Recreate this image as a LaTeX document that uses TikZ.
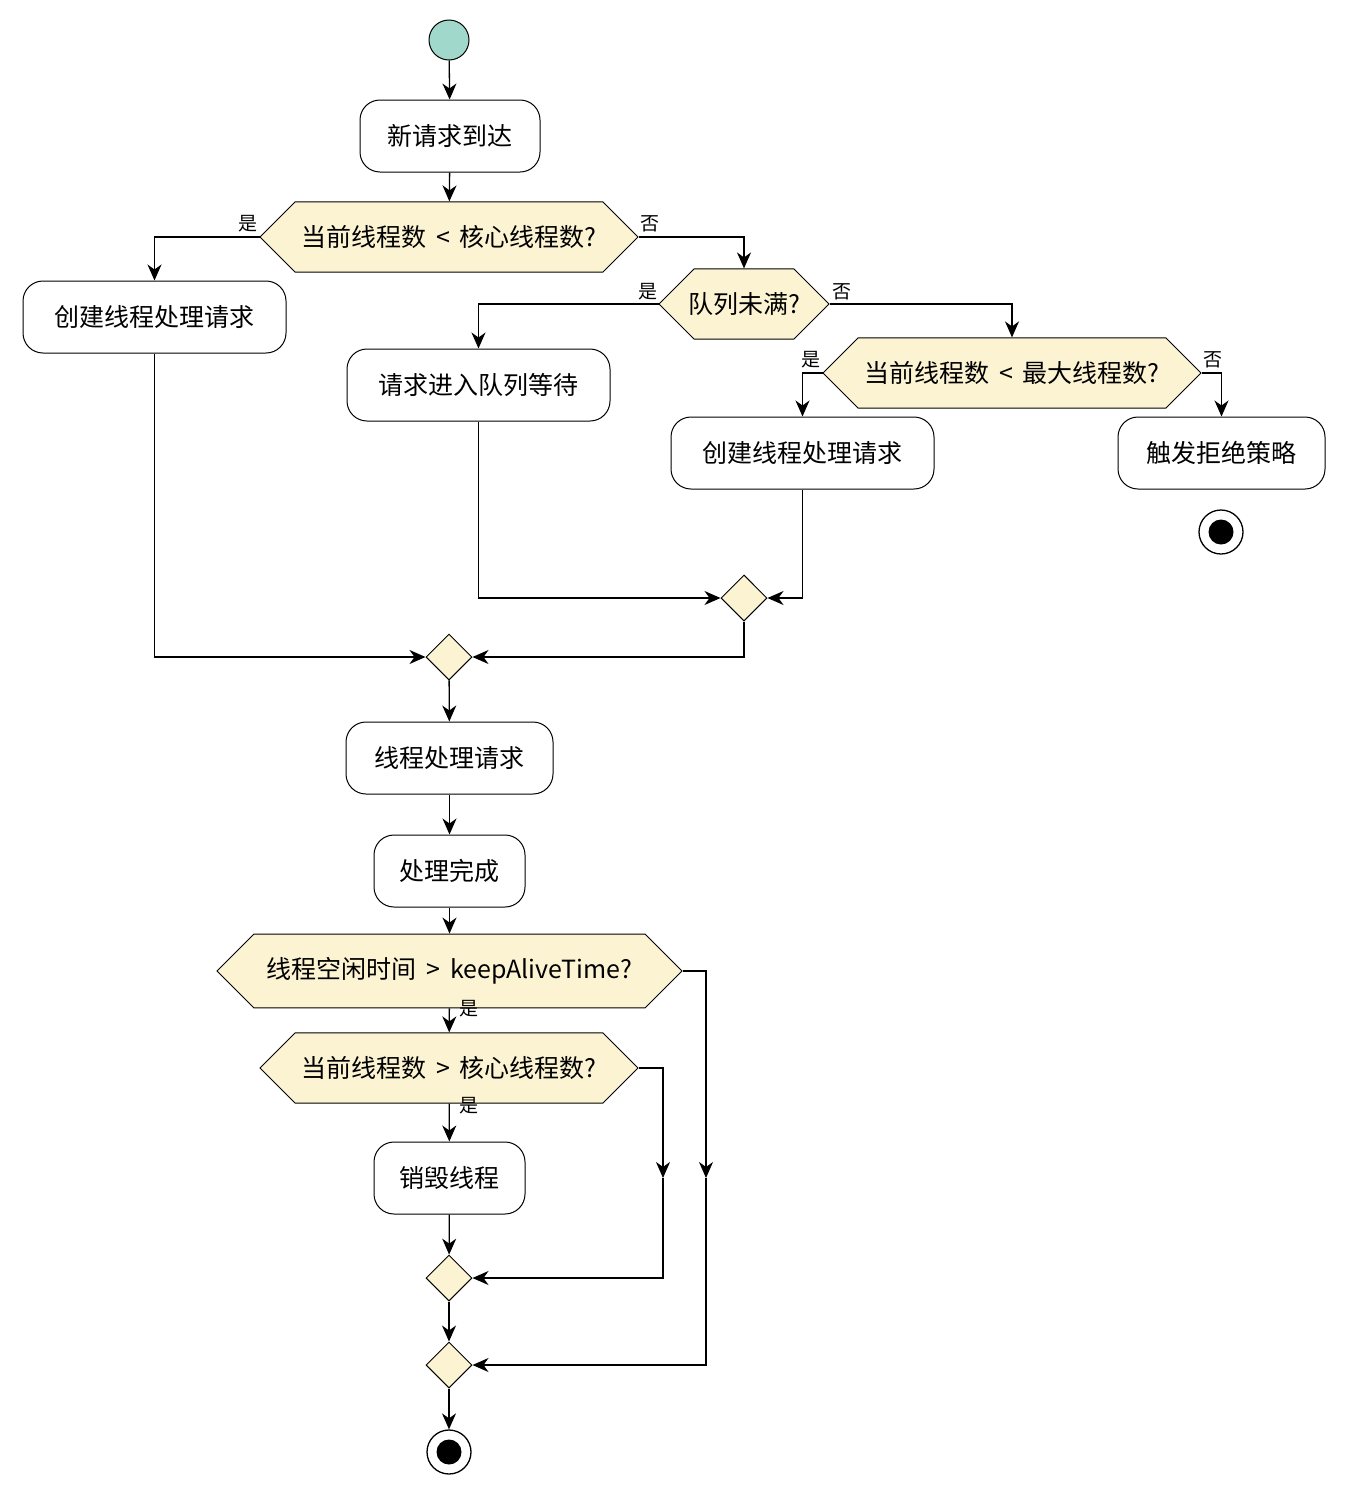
\documentclass[tikz,border=0pt]{standalone}
\usepackage{fontspec}
\setmainfont{Noto Sans CJK SC}
\usetikzlibrary{shapes.misc,shapes.geometric,arrows.meta}
\definecolor{dec}{HTML}{FCF3D2}
\definecolor{startc}{HTML}{A0D8CC}
\begin{document}
\begin{tikzpicture}[x=1pt,y=-1pt,
  every node/.style={font=\fontsize{25}{30}\selectfont},
  box/.style={draw,line width=1pt,rounded corners=20pt,fill=white,minimum height=72pt,inner xsep=0pt},
  hex/.style={draw,line width=1pt,fill=dec,chamfered rectangle,chamfered rectangle xsep=24pt,chamfered rectangle ysep=23.5pt,minimum height=47pt,inner sep=0pt},
  dia/.style={draw,line width=1pt,fill=dec,diamond,minimum width=46pt,minimum height=46pt,inner sep=0pt},
  lab/.style={font=\fontsize{19}{22}\selectfont},
  ar/.style={line width=1.3pt,-{Stealth[length=16pt,width=14pt,inset=5pt]}},
  ln/.style={line width=1.3pt}]
\useasboundingbox (0,0) rectangle (1345,1494);
\node[circle,draw,fill=startc,minimum size=40pt,line width=1pt] (s) at (449,40) {};
\node[box,minimum width=180pt] (b1) at (450,136) {新请求到达};
\node[hex,minimum width=378pt] (h1) at (449,237) {当前线程数 \,<\, 核心线程数?};
\node[box,minimum width=263pt] (b2) at (154.5,317) {创建线程处理请求};
\node[hex,minimum width=170pt] (h2) at (744,304) {队列未满?};
\node[box,minimum width=263pt] (b3) at (478.5,385) {请求进入队列等待};
\node[hex,minimum width=378pt] (h3) at (1012,373) {当前线程数 \,<\, 最大线程数?};
\node[box,minimum width=263pt] (b4) at (802.5,453) {创建线程处理请求};
\node[box,minimum width=207pt] (b5) at (1221.5,453) {触发拒绝策略};
\node[circle,draw,line width=1.3pt,minimum size=44pt] (e1) at (1221,532) {};
\fill (1221,532) circle (12.5pt);
\node[dia] (d1) at (744,598) {};
\node[dia] (d2) at (449,657) {};
\node[box,minimum width=207pt] (b6) at (449.5,758) {线程处理请求};
\node[box,minimum width=151pt] (b7) at (449.5,871) {处理完成};
\node[hex,minimum width=465pt] (h4) at (449.5,971) {线程空闲时间 \,>\, keepAliveTime?};
\node[hex,minimum width=378pt] (h5) at (449,1068) {当前线程数 \,>\, 核心线程数?};
\node[box,minimum width=151pt] (b8) at (449.5,1178) {销毁线程};
\node[dia] (d3) at (449,1278) {};
\node[dia] (d4) at (449,1365) {};
\node[circle,draw,line width=1.3pt,minimum size=44pt] (e2) at (449,1452) {};
\fill (449,1452) circle (12.5pt);
\node[lab] at (248,224) {是};
\node[lab] at (650,224) {否};
\node[lab] at (648,292) {是};
\node[lab] at (842,292) {否};
\node[lab] at (811,360) {是};
\node[lab] at (1213,360) {否};
\node[lab] at (469,1009) {是};
\node[lab] at (469,1106) {是};
\draw[ar] (s) -- (b1);
\draw[ar] (b1) -- (h1);
\draw[ar] (h1.west) -| (b2.north);
\draw[ar] (h1.east) -| (h2.north);
\draw[ar] (h2.west) -| (b3.north);
\draw[ar] (h2.east) -| (h3.north);
\draw[ar] (h3.west) -| (b4.north);
\draw[ar] (h3.east) -| (b5.north);
\draw[ar] (b3.south) |- (d1.west);
\draw[ar] (b4.south) |- (d1.east);
\draw[ar] (b2.south) |- (d2.west);
\draw[ar] (d1.south) |- (d2.east);
\draw[ar] (d2) -- (b6);
\draw[ar] (b6) -- (b7);
\draw[ar] (b7) -- (h4);
\draw[ar] (h4) -- (h5);
\draw[ar] (h5) -- (b8);
\draw[ar] (b8) -- (d3);
\coordinate (m1) at (663,1178);
\coordinate (m2) at (706,1178);
\draw[ar] (h5.east) -| (m1);
\draw[ar] (m1) |- (d3.east);
\draw[ar] (h4.east) -| (m2);
\draw[ar] (m2) |- (d4.east);
\draw[ar] (d3) -- (d4);
\draw[ar] (d4) -- (e2);
\end{tikzpicture}
\end{document}
